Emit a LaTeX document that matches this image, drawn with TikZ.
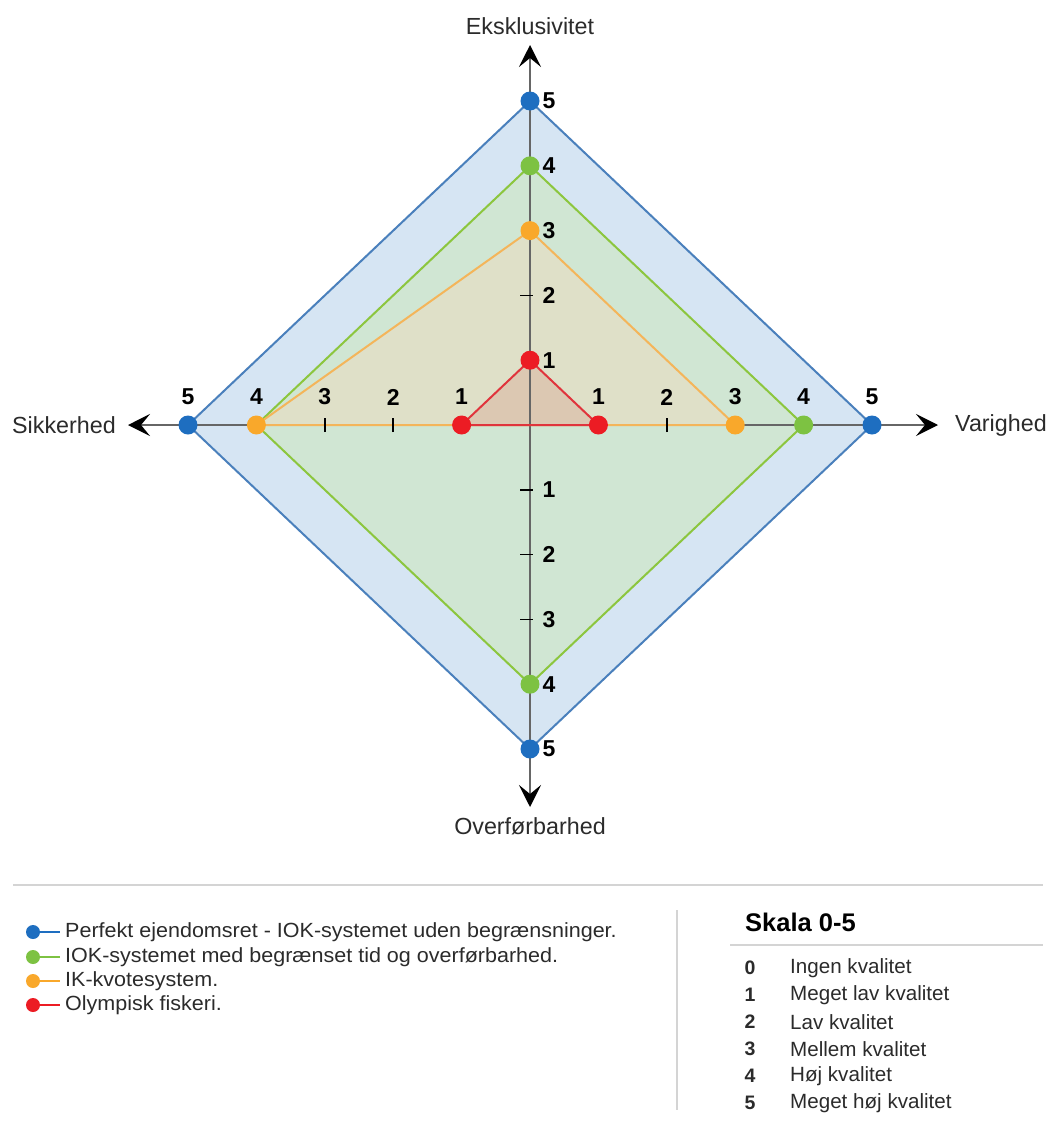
\documentclass[tikz,border=0pt]{standalone}
\usepackage{fontspec}
\setmainfont{Liberation Sans}
\usetikzlibrary{arrows.meta}
\definecolor{bline}{HTML}{4A80BC}
\definecolor{bfill}{HTML}{D6E5F3}
\definecolor{bdot}{HTML}{1E6EC0}
\definecolor{gline}{HTML}{8CC63E}
\definecolor{gfill}{HTML}{D0E6D3}
\definecolor{gdot}{HTML}{7DC242}
\definecolor{oline}{HTML}{F4B55A}
\definecolor{ofill}{HTML}{DFE0C8}
\definecolor{odot}{HTML}{F9A82B}
\definecolor{rline}{HTML}{E0343C}
\definecolor{rfill}{HTML}{DCC8B2}
\definecolor{rdot}{HTML}{EC1C24}
\definecolor{axisgray}{HTML}{666666}
\definecolor{txt}{HTML}{2B2B2B}
\definecolor{sepgray}{HTML}{D4D4D4}
\begin{document}
\begin{tikzpicture}[x=1pt,y=-1pt,
  axis/.style={draw=axisgray, line width=2pt, -{Stealth[length=22pt,width=22pt,inset=9pt,color=black]}},
  tickmark/.style={draw=black, line width=1.6pt},
  dot/.style={circle, minimum size=19pt, inner sep=0pt, fill=#1},
  ldot/.style={circle, minimum size=14pt, inner sep=0pt, fill=#1},
  num/.style={font=\fontsize{23}{26}\selectfont\bfseries, text=black, inner sep=0pt},
  axlabel/.style={font=\fontsize{23.3}{27}\selectfont, text=txt, inner sep=0pt},
  legtext/.style={font=\fontsize{20.5}{24}\selectfont, text=txt, inner sep=0pt, anchor=west, xscale=1.05},
  sctext/.style={font=\fontsize{20.6}{24}\selectfont, text=txt, inner sep=0pt, anchor=west},
  scnum/.style={font=\fontsize{19.5}{23}\selectfont\bfseries, text=txt, inner sep=0pt},
  poly/.style={line width=2pt, line join=round}
]
\useasboundingbox (0,0) rectangle (1048,1135);
\fill[white] (0,0) rectangle (1048,1135);

\def\cx{530}\def\cy{425}\def\ux{68.4}\def\uy{64.8}
\coordinate (C) at (\cx,\cy);
\foreach \i in {1,...,5}{
  \coordinate (R\i) at ({\cx+\i*\ux},\cy);
  \coordinate (L\i) at ({\cx-\i*\ux},\cy);
  \coordinate (U\i) at (\cx,{\cy-\i*\uy});
  \coordinate (D\i) at (\cx,{\cy+\i*\uy});
}
\coordinate (AU) at (\cx,45);
\coordinate (AD) at (\cx,807);
\coordinate (AL) at (128,\cy);
\coordinate (AR) at (938,\cy);

% fills
\fill[bfill] (U5)--(R5)--(D5)--(L5)--cycle;
\fill[gfill] (U4)--(R4)--(D4)--(L4)--cycle;
\fill[ofill] (U3)--(R3)--(L4)--cycle;
\fill[rfill] (U1)--(R1)--(L1)--cycle;

% axes
\draw[axis] (C) -- (AU);
\draw[axis] (C) -- (AD);
\draw[axis] (C) -- (AL);
\draw[axis] (C) -- (AR);

% polygon outlines
\draw[poly, bline] (U5)--(R5)--(D5)--(L5)--cycle;
\draw[poly, gline] (U4)--(R4)--(D4)--(L4)--cycle;
\draw[poly, oline] (U3)--(R3)--(L4)--cycle;
\draw[poly, rline] (U1)--(R1)--(L1)--cycle;

% ticks
\foreach \p in {U2,D1,D2,D3}{
  \draw[tickmark] ([xshift=-10pt]\p) -- ([xshift=3pt]\p);
}
\foreach \p in {L3,L2,R2}{
  \draw[tickmark] ([yshift=-7pt]\p) -- ([yshift=7pt]\p);
}

% markers
\foreach \p in {U5,R5,D5,L5}{ \node[dot=bdot] (m\p) at (\p) {}; }
\foreach \p in {U4,R4,D4}{ \node[dot=gdot] (m\p) at (\p) {}; }
\node[dot=odot] (mL4) at (L4) {};
\foreach \p in {U3,R3}{ \node[dot=odot] (m\p) at (\p) {}; }
\foreach \p in {U1,R1,L1}{ \node[dot=rdot] (m\p) at (\p) {}; }

% numbers
\foreach \i in {1,...,5}{
  \node[num] (nu\i) at ({\cx+19},{\cy-\i*\uy}) {\i};
  \node[num] (nd\i) at ({\cx+19},{\cy+\i*\uy}) {\i};
  \node[num] (nr\i) at ({\cx+\i*\ux},397) {\i};
  \node[num] (nl\i) at ({\cx-\i*\ux},397) {\i};
}

% axis labels
\node[axlabel] (lE) at (530,26) {Eksklusivitet};
\node[axlabel] (lO) at (530,826) {Overførbarhed};
\node[axlabel, anchor=west] (lS) at (12,425) {Sikkerhed};
\node[axlabel, anchor=west] (lV) at (955,425) {Varighed};

% separators
\draw[sepgray, line width=2pt] (13,885) -- (1043,885);
\draw[sepgray, line width=1.5pt] (677,910) -- (677,1110);

% legend
\foreach \y/\c/\t [count=\k] in {932/bdot/{Perfekt ejendomsret - IOK-systemet uden begrænsninger.},
  957/gdot/{IOK-systemet med begrænset tid og overførbarhed.},
  981/odot/{IK-kvotesystem.},
  1005/rdot/{Olympisk fiskeri.}}{
  \coordinate (le\k) at (60,\y);
  \node[ldot=\c] (ld\k) at (33,\y) {};
  \draw[\c, line width=1.5pt] (ld\k.east) -- (le\k);
  \node[legtext] (lt\k) at (65,\y) {\t};
}

% scale
\node[font=\fontsize{25.5}{29}\selectfont\bfseries, text=black, inner sep=0pt, anchor=west] (sk) at (745,922) {Skala 0-5};
\draw[sepgray, line width=1.5pt] (730,945) -- (1043,945);
\foreach \n/\t [count=\k from 0] in {0/Ingen kvalitet,1/Meget lav kvalitet,2/Lav kvalitet,3/Mellem kvalitet,4/Høj kvalitet,5/Meget høj kvalitet}{
  \node[scnum] (sn\k) at (750,{968+\k*27}) {\n};
  \node[sctext] (st\k) at (790,{968+\k*27}) {\t};
}
\end{tikzpicture}
\end{document}
